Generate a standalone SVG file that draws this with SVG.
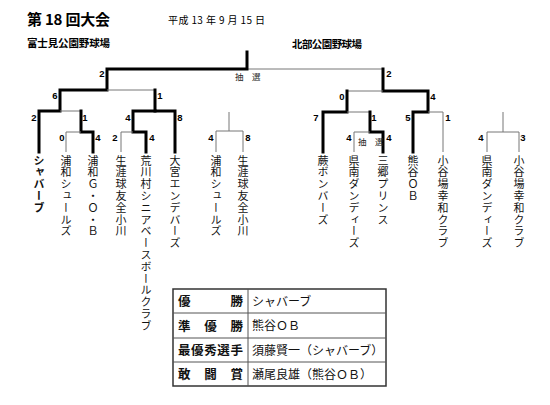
<svg xmlns="http://www.w3.org/2000/svg" width="550" height="405" viewBox="0 0 550 405">
<style>
.thick{stroke:#000;stroke-width:3;fill:none;stroke-linecap:square}
.thin{stroke:#777;stroke-width:1;fill:none}
.sc{font-family:"Liberation Sans","Noto Sans CJK JP",sans-serif;font-weight:bold;font-size:9.5px;text-anchor:middle;fill:#000}
.team{font-family:"Noto Sans CJK JP",sans-serif;font-size:11px;letter-spacing:0.8px;writing-mode:vertical-rl;fill:#111}
.hd{font-family:"Noto Sans CJK JP",sans-serif;fill:#000}
.lab{font-family:"Noto Sans CJK JP",sans-serif;font-weight:bold;font-size:12.5px;fill:#111}
.val{font-family:"Noto Sans CJK JP",sans-serif;font-size:12px;fill:#111}
.ch{font-family:"Noto Sans CJK JP",sans-serif;font-size:8.5px;fill:#222}
</style>
<rect width="550" height="405" fill="#fff"/>
<g id="header">
<text class="hd" x="27" y="25" font-size="15" font-weight="bold" textLength="83">第 18 回大会</text>
<text class="hd" x="168" y="24" font-size="10" textLength="97">平成 13 年 9 月 15 日</text>
<text class="hd" x="27" y="47" font-size="10.5" font-weight="bold" textLength="83">富士見公園野球場</text>
<text class="hd" x="292" y="48" font-size="10.5" font-weight="bold" textLength="70">北部公園野球場</text>
</g>
<g id="connectors">
<!-- final -->
<path class="thin" d="M247 69 H383"/>
<path class="thick" d="M247 52 V69 H107 V90 H60 V111 H39 V152"/>
<path class="thick" d="M383 69 V91 H428 V112 H413 V152"/>
<!-- left half -->
<path class="thin" d="M107 90 H155"/>
<path class="thin" d="M60 111 H81"/>
<path class="thick" d="M81 111 V132 H93 V152"/>
<path class="thin" d="M81 132 H66 V152"/>
<path class="thick" d="M155 90 V111 H175 V152"/>
<path class="thick" d="M155 111 H133 V132 H146 V152"/>
<path class="thin" d="M133 132 H121 V152"/>
<!-- middle-left pair -->
<path class="thin" d="M229 112 V131 M216 152 V131 H243 V152"/>
<!-- right half -->
<path class="thin" d="M347 91 H383"/>
<path class="thick" d="M347 91 V112 H323 V152"/>
<path class="thin" d="M347 112 H370"/>
<path class="thick" d="M370 112 V132 H383 V152"/>
<path class="thin" d="M370 132 H354 V152"/>
<path class="thin" d="M428 112 H443 V152"/>
<!-- right pair -->
<path class="thin" d="M503 112 V132 M487 152 V132 H519 V152"/>
</g>
<g id="draw-labels">
<text class="ch" x="235" y="80">抽　選</text>
<text class="ch" x="358" y="145">抽　選</text>
</g>
<g id="scores">
<text class="sc" x="102" y="77">2</text>
<text class="sc" x="389" y="77">2</text>
<text class="sc" x="55" y="99">6</text>
<text class="sc" x="160" y="99">1</text>
<text class="sc" x="342" y="100">0</text>
<text class="sc" x="433" y="100">4</text>
<text class="sc" x="34" y="121">2</text>
<text class="sc" x="85" y="121">1</text>
<text class="sc" x="128" y="121">4</text>
<text class="sc" x="180" y="121">8</text>
<text class="sc" x="316" y="121">7</text>
<text class="sc" x="374" y="121">1</text>
<text class="sc" x="408" y="121">5</text>
<text class="sc" x="448" y="121">1</text>
<text class="sc" x="62" y="141">0</text>
<text class="sc" x="98" y="141">4</text>
<text class="sc" x="115" y="141">2</text>
<text class="sc" x="152" y="141">4</text>
<text class="sc" x="211" y="141">4</text>
<text class="sc" x="248" y="141">8</text>
<text class="sc" x="349" y="141">4</text>
<text class="sc" x="389" y="141">4</text>
<text class="sc" x="481" y="141">4</text>
<text class="sc" x="523" y="141">3</text>
</g>
<g id="team-shabarbe"><text class="team" x="39" y="155" font-weight="bold" fill="#000">シャバーブ</text></g>
<g id="team-urawa-schools-1"><text class="team" x="66" y="155">浦和シュールズ</text></g>
<g id="team-urawa-gob"><text class="team" x="93" y="155">浦和Ｇ・Ｏ・Ｂ</text></g>
<g id="team-shogai-1"><text class="team" x="121" y="155">生涯球友全小川</text></g>
<g id="team-arakawa"><text class="team" x="146" y="155">荒川村シニアベースボールクラブ</text></g>
<g id="team-omiya"><text class="team" x="175" y="155">大宮エンデバーズ</text></g>
<g id="team-urawa-schools-2"><text class="team" x="216" y="155">浦和シュールズ</text></g>
<g id="team-shogai-2"><text class="team" x="243" y="155">生涯球友全小川</text></g>
<g id="team-warabi"><text class="team" x="323" y="155">蕨ボンバーズ</text></g>
<g id="team-kennan-1"><text class="team" x="354" y="155">県南ダンディーズ</text></g>
<g id="team-misato"><text class="team" x="383" y="155">三郷プリンス</text></g>
<g id="team-kumagaya"><text class="team" x="413" y="155">熊谷ＯＢ</text></g>
<g id="team-koyaba-1"><text class="team" x="443" y="155">小谷場幸和クラブ</text></g>
<g id="team-kennan-2"><text class="team" x="487" y="155">県南ダンディーズ</text></g>
<g id="team-koyaba-2"><text class="team" x="519" y="155">小谷場幸和クラブ</text></g>
<g id="results-table">
<rect x="173" y="289" width="213" height="97" fill="none" stroke="#333" stroke-width="1.5"/>
<path d="M173 313 H386 M173 338 H386 M173 362 H386 M248 289 V386" stroke="#555" stroke-width="1" fill="none"/>
<text class="lab" x="178" y="306" textLength="65">優　　　勝</text>
<text class="lab" x="178" y="330.5" textLength="65">準　優　勝</text>
<text class="lab" x="178" y="355" textLength="65">最優秀選手</text>
<text class="lab" x="178" y="379" textLength="65">敢　闘　賞</text>
<text class="val" x="252" y="305.5">シャバーブ</text>
<text class="val" x="252" y="330">熊谷ＯＢ</text>
<text class="val" x="252" y="354.5">須藤賢一（シャバーブ）</text>
<text class="val" x="252" y="378.5">瀬尾良雄（熊谷ＯＢ）</text>
</g>
</svg>
